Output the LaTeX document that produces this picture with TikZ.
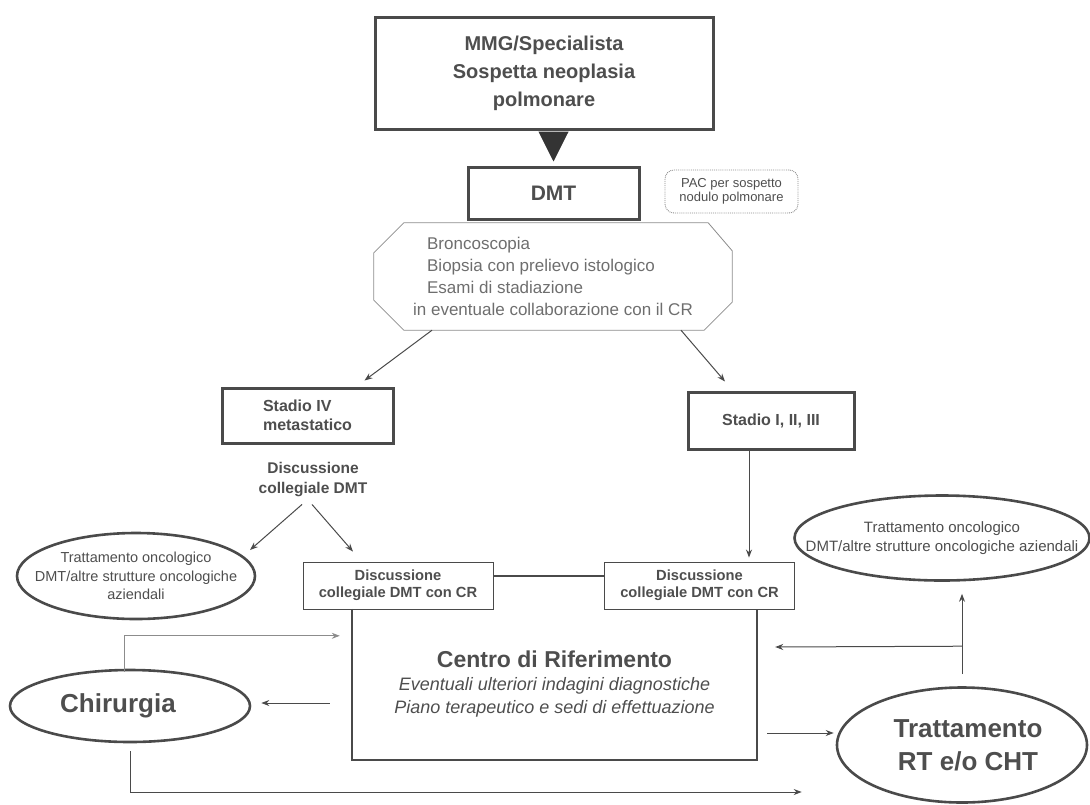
\documentclass[tikz,border=0pt]{standalone}
\usepackage{fontspec}
\setmainfont{Liberation Sans}
\usetikzlibrary{shapes.geometric,arrows.meta,calc}

\definecolor{ink}{HTML}{4A4A4A}
\definecolor{txt}{HTML}{4E4E4E}
\definecolor{soft}{HTML}{8C8C8C}
\definecolor{txtsoft}{HTML}{6E6E6E}

\tikzset{
  heavybox/.style={draw=ink, line width=3pt, fill=white, text=txt, align=center, inner sep=0pt},
  thinbox/.style={draw=ink, line width=0.9pt, fill=white, text=txt, align=center, inner sep=0pt,
    minimum width=190pt, minimum height=47pt, font=\bfseries\fontsize{14.7}{17}\selectfont},
  pacbox/.style={draw=soft, densely dotted, line width=0.9pt, rounded corners=9pt, text=txt,
    align=center, inner sep=0pt, minimum width=133pt, minimum height=43pt, font=\fontsize{13}{14.5}\selectfont},
  esamibox/.style={inner sep=0pt, minimum width=358pt, minimum height=107pt,
    text=txtsoft, align=left, font=\fontsize{17}{22}\selectfont},
  octline/.style={draw=soft, line width=0.8pt},
  oval/.style={ellipse, draw=ink, line width=2.6pt, inner sep=0pt},
  ovaltext/.style={text=txt, align=center},
  plain/.style={text=txt, align=center, inner sep=0pt, font=\bfseries\fontsize{15.5}{20}\selectfont},
  arr/.style={-{Stealth[length=8pt,width=6pt]}, draw=ink, line width=1pt},
  arrsoft/.style={-{Stealth[length=8pt,width=6pt]}, draw=soft, line width=1pt},
  frame/.style={draw=ink, line width=2pt},
}

\begin{document}
\begin{tikzpicture}[x=1pt,y=-1pt]
  \useasboundingbox (0,0) rectangle (1090,804);

  % first contact and DMT
  \node[heavybox, minimum width=338pt, minimum height=112pt, font=\bfseries\fontsize{20}{28}\selectfont] (mmg) at (544,73) {MMG/Specialista\\Sospetta neoplasia\\polmonare};
  \node[heavybox, minimum width=171pt, minimum height=52pt, font=\bfseries\fontsize{21}{25}\selectfont] (dmt) at (553.5,193) {DMT};
  \node[pacbox] (pac) at (731.5,191.5) {PAC per sospetto\\nodulo polmonare};
  \draw[-{Triangle[length=30pt,width=30pt]}, ink!70!black, line width=1pt, shorten <=4pt, shorten >=4pt] (dmt.north |- mmg.south) -- (dmt.north);

  \node[esamibox] (esami) at (553,276.5) {\hspace*{14pt}Broncoscopia\\\hspace*{14pt}Biopsia con prelievo istologico\\\hspace*{14pt}Esami di stadiazione\\in eventuale\ collaborazione con il CR};
  \draw[octline] ($(esami.north west)+(30,0)$) -- ($(esami.north east)+(-24,0)$) -- ($(esami.north east)+(0,28)$)
    -- ($(esami.south east)+(0,-28)$) -- ($(esami.south east)+(-28,0)$) -- ($(esami.south west)+(30,0)$)
    -- ($(esami.south west)+(0,-30)$) -- ($(esami.north west)+(0,30)$) -- cycle;

  % stadiazione
  \node[heavybox, minimum width=171pt, minimum height=55pt, align=left, font=\bfseries\fontsize{16}{19}\selectfont] (st4) at (307.5,415.5) {Stadio IV\\metastatico};
  \node[heavybox, minimum width=166pt, minimum height=57pt, font=\bfseries\fontsize{16}{19}\selectfont] (st1) at (771,420.5) {Stadio I, II, III};
  \draw[arr] ($(esami.south)+(-121,0)$) -- ($(st4.north)+(57,-6)$);
  \draw[arr] ($(esami.south)+(128,0)$) -- ($(st1.north)+(-46,-9)$);

  \node[plain] (discdmt) at (313,480) {Discussione\\collegiale DMT};

  % ellipses
  \node[oval, minimum width=238pt, minimum height=86pt,
    label={[ovaltext, font=\fontsize{14.5}{18.5}\selectfont]center:{Trattamento oncologico\\DMT/altre strutture oncologiche\\aziendali}}] (onco1) at (136,576) {};
  \node[oval, minimum width=295pt, minimum height=85pt,
    label={[ovaltext, font=\fontsize{15}{18.5}\selectfont]center:{Trattamento oncologico\\DMT/altre strutture oncologiche aziendali}}] (onco2) at (942,538) {};
  \node[oval, minimum width=240pt, minimum height=72pt,
    label={[ovaltext, xshift=-12pt, font=\bfseries\fontsize{26}{30}\selectfont]center:{Chirurgia}}] (chir) at (130,706) {};
  \node[oval, minimum width=250pt, minimum height=115pt,
    label={[ovaltext, xshift=6pt, font=\bfseries\fontsize{26}{33}\selectfont]center:{Trattamento\\RT e/o CHT}}] (trat) at (962,745) {};

  % centro di riferimento
  \node[thinbox] (dcr1) at (398,585.5) {Discussione\\collegiale DMT con CR};
  \node[thinbox] (dcr2) at (699.5,585.5) {Discussione\\collegiale DMT con CR};
  \node[text=txt, align=center, minimum width=405pt, minimum height=151pt, inner sep=0pt, font=\itshape\fontsize{18}{23}\selectfont] (centro) at (554.5,684.5) {{\upshape\bfseries\fontsize{23}{27}\selectfont Centro di Riferimento}\\Eventuali ulteriori indagini diagnostiche\\Piano terapeutico e sedi di effettuazione};
  \draw[frame] (centro.north west) |- (centro.south east) -- (centro.north east);
  \draw[frame] ($(dcr1.east)+(0,-9.5)$) -- ($(dcr2.west)+(0,-9.5)$);

  \draw[arr] ($(discdmt.south)+(-11,7)$) -- ($(onco1.center)+(114,-26)$);
  \draw[arr] ($(discdmt.south)+(-1,7)$) -- ($(dcr1.north)+(-45,-10)$);
  \coordinate (st1out) at ($(st1.south)+(-22,0)$);
  \draw[arr, shorten >=4pt] (st1out) -- (st1out |- dcr2.north);

  % percorsi terapeutici
  \draw[arrsoft] ($(chir.north)+(-6,3)$) |- ($(centro.north west)+(-12,27)$);
  \draw[arr, shorten >=10pt] ($(centro.west |- chir.east)+(-22,-3)$) -- ($(chir.east)+(0,-3)$);
  \draw[arr, shorten <=8pt] (chir.south) |- ($(trat.west)+(-34,47)$);
  \draw[arr] ($(centro.east)+(10,48.5)$) -- ($(trat.west)+(-2,-12)$);
  \draw[arr, shorten <=12pt, shorten >=12pt] (trat.north) -- (trat.north |- onco2.south);
  \draw[arr] ($(trat.north)+(0,-40)$) -- ($(centro.east)+(18,-37.5)$);

\end{tikzpicture}
\end{document}
